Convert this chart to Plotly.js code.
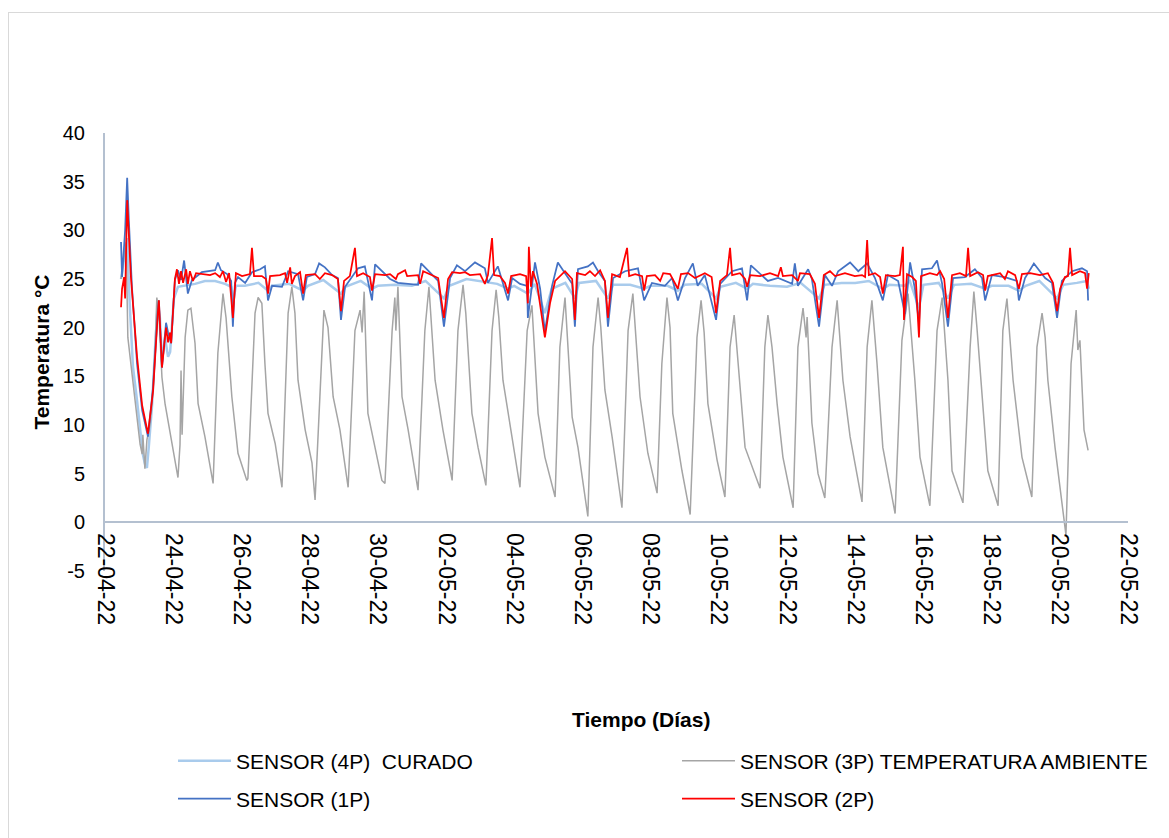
<!DOCTYPE html>
<html>
<head>
<meta charset="utf-8">
<script src="https://cdn.plot.ly/plotly-3.0.1.min.js"></script>
<style>
  html, body { margin: 0; padding: 0; background: #ffffff; }
  #wrap { position: relative; width: 1169px; height: 838px; overflow: hidden; }
  #frame { position: absolute; left: 8px; top: 12px; width: 1170px; height: 840px; border: 1px solid #d9d9d9; box-sizing: border-box; pointer-events: none; z-index: 2; }
  #chart { position: absolute; left: 0; top: 0; width: 1169px; height: 838px; }
</style>
</head>
<body>
<div id="wrap">
  <div id="chart"></div>
  <div id="frame"></div>
</div>
<script>
// ---- Data (x = days elapsed since 22-04-22 00:00, y = temperature °C) ----

// SENSOR (4P) CURADO
const dias4P = [
  0.47,0.56,0.65,0.73,0.82,0.94,1.03,1.11,1.17,1.23,
  1.29,1.38,1.47,1.55,1.61,1.67,1.76,1.85,1.91,2.02,
  2.14,2.35,2.64,2.93,3.23,3.52,3.70,3.75,3.84,4.10,
  4.50,4.78,4.90,5.40,5.81,5.95,6.40,6.92,7.05,7.50,
  7.83,8.00,8.50,9.00,9.40,9.94,10.10,10.60,11.00,11.50,
  11.82,12.00,12.40,12.60,12.90,13.10,13.50,13.78,13.90,14.40,
  14.75,14.90,15.40,15.81,16.00,16.50,16.80,17.00,17.50,17.92,
  18.05,18.50,18.83,19.00,19.50,20.00,20.40,20.94,21.10,21.60,
  22.00,22.40,22.81,23.00,23.45,23.60,23.87,24.00,24.45,24.72,
  24.90,25.40,25.81,26.00,26.50,26.80,27.00,27.40,27.92,28.10,
  28.50,28.80,28.85
];
const sensor4P = [
  25.0,27.0,29.2,22.0,16.0,12.5,9.5,7.0,6.0,5.6,
  8.0,12.0,18.0,22.5,21.0,16.5,19.0,17.0,17.5,23.0,
  24.2,24.3,24.5,24.8,24.8,24.5,24.2,22.5,24.3,24.3,
  24.6,23.8,24.3,24.5,23.8,24.3,24.9,23.5,24.2,24.8,
  24.0,24.3,24.4,24.3,24.8,23.0,24.3,25.0,24.8,24.5,
  24.0,24.3,23.5,24.5,21.5,24.0,24.6,23.0,24.6,24.8,
  23.0,24.4,24.4,24.0,24.3,24.3,23.8,24.4,24.5,23.0,
  24.2,24.6,24.0,24.5,24.3,24.2,24.6,23.0,24.4,24.6,
  24.6,24.8,24.0,24.4,24.3,24.8,22.0,24.4,24.6,23.0,
  24.4,24.5,24.0,24.3,24.3,23.8,24.3,24.8,23.0,24.4,
  24.6,24.8,24.0
];

// SENSOR (3P) TEMPERATURA AMBIENTE
const dias3P = [
  0.47,0.62,0.67,0.79,0.94,1.03,1.09,1.11,1.17,1.23,
  1.32,1.38,1.47,1.52,1.58,1.67,1.76,1.91,2.05,2.14,
  2.20,2.23,2.26,2.35,2.43,2.52,2.64,2.73,2.93,3.17,
  3.31,3.46,3.55,3.72,3.90,4.16,4.19,4.40,4.49,4.60,
  4.69,4.78,4.99,5.19,5.37,5.48,5.57,5.66,5.87,6.07,
  6.16,6.30,6.42,6.54,6.69,6.89,7.13,7.33,7.48,7.54,
  7.60,7.71,7.92,8.12,8.21,8.42,8.50,8.53,8.59,8.71,
  8.89,9.09,9.18,9.38,9.50,9.68,9.91,10.18,10.35,10.50,
  10.58,10.76,10.94,11.17,11.35,11.47,11.55,11.67,11.94,12.17,
  12.38,12.52,12.70,12.90,13.20,13.34,13.49,13.55,13.70,13.87,
  14.16,14.31,14.46,14.54,14.66,14.87,15.16,15.34,15.48,15.69,
  15.92,16.19,16.33,16.48,16.57,16.65,16.92,17.16,17.36,17.48,
  17.57,17.68,17.95,18.18,18.33,18.45,18.57,18.77,19.21,19.35,
  19.44,19.56,19.71,19.88,20.18,20.32,20.47,20.56,20.59,20.73,
  20.91,21.11,21.32,21.47,21.64,21.85,22.20,22.35,22.49,22.64,
  22.81,23.17,23.37,23.55,23.75,23.90,24.19,24.40,24.55,24.72,
  24.84,25.16,25.37,25.48,25.57,25.72,25.89,26.19,26.33,26.45,
  26.63,26.89,27.18,27.33,27.48,27.57,27.65,27.86,28.06,28.18,
  28.33,28.48,28.53,28.59,28.71,28.83
];
const sensor3P = [
  25.0,28.8,19.0,15.3,11.2,8.0,7.0,9.0,5.5,8.5,
  10.0,12.2,18.0,23.1,21.5,14.9,12.2,9.2,6.4,4.6,
  8.0,15.6,9.0,19.0,21.8,22.0,18.4,12.2,8.8,4.0,
  17.4,23.5,21.0,12.9,7.1,4.3,4.5,21.5,23.1,22.5,
  16.3,11.2,8.1,3.6,21.5,24.2,21.5,14.6,9.5,6.1,
  2.3,12.9,21.8,20.0,12.9,9.5,3.6,19.7,21.8,19.5,
  23.7,11.2,7.7,4.3,4.0,19.7,23.1,19.7,24.2,12.9,
  9.5,5.0,3.3,19.7,24.2,14.6,9.5,4.3,19.7,24.4,
  21.5,11.2,7.7,3.8,19.7,23.9,21.0,14.6,8.8,3.6,
  19.7,22.3,11.2,6.7,2.6,18.0,23.1,19.5,10.8,7.7,
  0.6,18.0,23.1,20.0,13.6,8.8,1.5,19.7,23.5,12.9,
  7.1,3.0,16.3,23.1,20.0,11.2,5.3,0.8,19.0,22.8,
  19.5,12.2,6.4,2.6,18.0,21.3,16.3,7.7,3.5,18.0,
  21.3,18.0,12.2,6.7,1.5,18.0,22.0,19.0,21.1,10.2,
  5.0,2.5,18.0,22.8,14.6,8.8,2.1,18.0,22.8,16.3,
  7.7,0.9,18.7,23.5,14.6,6.7,1.7,19.7,23.1,14.6,
  5.3,2.0,18.0,23.7,20.0,12.9,5.3,1.7,19.7,23.0,
  14.6,6.7,2.6,18.0,21.5,19.0,14.6,7.7,2.0,-1.3,
  16.3,21.8,17.7,18.7,9.5,7.4
];

// SENSOR (1P)
const dias1P = [
  0.47,0.50,0.59,0.65,0.70,0.79,0.94,1.09,1.26,1.41,
  1.55,1.58,1.67,1.79,1.85,1.94,2.05,2.14,2.23,2.32,
  2.43,2.55,2.84,3.23,3.31,3.40,3.58,3.70,3.75,3.81,
  3.90,4.11,4.31,4.55,4.69,4.78,4.90,5.19,5.37,5.66,
  5.81,5.92,6.16,6.28,6.45,6.66,6.83,6.92,7.04,7.42,
  7.62,7.83,7.92,8.21,8.36,8.59,9.18,9.27,9.59,9.77,
  9.94,10.12,10.32,10.56,10.85,11.14,11.23,11.52,11.82,11.94,
  12.17,12.38,12.40,12.61,12.76,12.90,13.11,13.28,13.49,13.70,
  13.78,13.87,14.16,14.31,14.46,14.66,14.75,14.90,15.25,15.63,
  15.81,16.04,16.42,16.63,16.80,17.01,17.24,17.38,17.59,17.92,
  18.04,18.39,18.68,18.83,18.94,19.27,19.44,19.74,20.15,20.23,
  20.32,20.62,20.73,20.94,21.11,21.32,21.50,21.85,22.09,22.35,
  22.58,22.81,22.96,23.26,23.46,23.61,23.75,23.87,23.96,24.25,
  24.40,24.55,24.72,24.87,25.22,25.51,25.72,25.81,26.01,26.39,
  26.74,26.80,26.98,27.24,27.57,27.77,27.92,28.06,28.36,28.65,
  28.80,28.83
];
const sensor1P = [
  28.8,25.2,30.0,35.4,31.0,24.2,16.3,11.5,8.8,13.9,
  21.8,22.8,15.9,20.5,19.5,18.4,24.9,25.9,24.9,26.9,
  23.5,24.9,25.7,25.9,26.7,25.9,25.5,24.8,20.1,24.6,
  25.2,24.6,25.7,26.0,26.3,22.8,24.3,24.2,25.8,25.5,
  22.8,25.2,25.5,26.6,26.2,25.4,25.1,20.8,24.2,26.1,
  26.3,22.8,26.5,25.5,25.0,24.6,24.4,26.6,25.5,24.8,
  20.1,25.1,26.4,25.8,26.7,26.1,24.6,26.3,22.8,25.1,
  24.5,24.3,21.0,26.7,24.0,19.6,24.3,26.7,25.6,24.5,
  20.1,26.0,26.3,26.7,25.8,24.8,20.1,25.1,25.8,26.1,
  22.8,24.6,24.3,25.1,22.8,25.1,26.6,24.3,25.4,20.8,
  24.5,25.8,26.1,22.8,26.4,25.4,24.8,25.1,24.5,26.6,
  24.3,26.0,25.0,20.1,25.4,24.3,25.8,26.7,25.8,26.6,
  25.1,22.8,25.4,24.8,21.4,26.7,24.0,20.5,26.0,26.1,
  26.9,24.5,20.1,25.1,25.2,26.0,25.1,22.8,25.4,25.2,
  24.8,22.8,25.1,26.6,25.1,24.6,21.0,24.8,25.8,26.1,
  25.8,22.8
];

// SENSOR (2P)
const dias2P = [
  0.47,0.50,0.56,0.59,0.65,0.70,0.76,0.94,1.09,1.26,
  1.41,1.55,1.58,1.67,1.73,1.79,1.85,1.91,1.94,2.05,
  2.11,2.17,2.23,2.29,2.38,2.43,2.49,2.58,2.67,2.93,
  3.08,3.23,3.37,3.46,3.55,3.64,3.75,3.84,4.02,4.25,
  4.31,4.37,4.60,4.72,4.78,4.84,5.13,5.28,5.34,5.43,
  5.48,5.57,5.72,5.81,5.89,6.16,6.30,6.45,6.66,6.83,
  6.92,7.01,7.18,7.33,7.39,7.57,7.77,7.83,7.92,8.21,
  8.36,8.53,8.59,8.80,8.86,9.18,9.24,9.33,9.53,9.77,
  9.94,10.06,10.18,10.41,10.56,10.70,11.00,11.14,11.23,11.35,
  11.41,11.58,11.73,11.82,11.91,12.17,12.35,12.40,12.43,12.49,
  12.55,12.67,12.90,13.05,13.20,13.34,13.49,13.70,13.78,13.84,
  14.08,14.22,14.37,14.52,14.66,14.75,14.87,15.10,15.31,15.37,
  15.55,15.75,15.81,15.89,16.13,16.28,16.37,16.57,16.74,16.80,
  16.89,17.10,17.30,17.45,17.59,17.79,17.92,18.04,18.24,18.33,
  18.39,18.62,18.77,18.83,18.92,19.21,19.50,19.74,19.82,19.88,
  20.15,20.32,20.38,20.67,20.82,20.94,21.08,21.26,21.41,21.70,
  21.99,22.20,22.29,22.35,22.40,22.58,22.73,22.81,22.90,23.17,
  23.31,23.40,23.43,23.52,23.67,23.78,23.87,23.93,24.19,24.40,
  24.49,24.61,24.72,24.84,25.07,25.25,25.31,25.37,25.60,25.75,
  25.81,25.89,26.25,26.39,26.48,26.69,26.80,26.89,27.13,27.42,
  27.65,27.80,27.92,28.01,28.15,28.24,28.30,28.36,28.59,28.74,
  28.80,28.85
];
const sensor2P = [
  22.1,24.0,25.2,23.0,33.1,29.0,25.2,17.0,12.0,9.1,
  13.5,21.5,22.8,15.9,18.0,20.0,18.5,19.5,18.4,25.0,
  26.0,24.5,25.8,24.6,26.0,24.5,25.8,24.8,25.6,25.5,
  25.4,25.6,25.2,25.8,24.7,25.6,21.0,25.6,25.3,25.5,
  28.2,25.3,25.3,25.0,23.5,25.3,25.4,25.6,24.6,26.2,
  24.5,25.3,25.7,23.5,25.4,25.5,25.0,25.6,25.4,25.0,
  21.7,24.8,25.3,28.2,25.3,25.6,25.2,23.8,25.5,25.4,
  25.5,25.0,25.5,25.9,25.3,25.4,24.5,25.8,25.5,25.1,
  21.0,25.0,25.7,25.6,25.7,25.4,25.5,24.5,25.4,29.2,
  25.4,25.3,24.6,23.5,25.3,25.5,25.3,22.5,28.3,24.2,
  25.8,24.5,19.0,22.5,24.8,25.3,25.8,25.0,20.8,25.6,
  25.4,25.8,25.3,25.9,24.8,21.0,25.5,25.2,28.2,25.3,
  25.5,25.3,23.8,25.3,25.4,24.8,25.6,25.5,24.3,24.0,
  25.5,25.6,25.1,25.4,25.6,25.2,21.5,24.8,25.4,28.2,
  25.4,25.6,25.0,24.2,25.4,25.3,25.6,25.3,26.2,25.3,
  25.4,24.8,25.6,25.5,24.5,21.0,25.4,25.8,25.3,25.6,
  25.3,25.4,25.2,29.0,25.4,25.6,25.2,23.5,25.4,25.3,
  25.4,28.3,20.8,25.5,25.2,24.8,19.0,25.3,25.6,25.4,
  25.8,25.0,21.0,25.4,25.6,25.3,28.2,25.3,25.7,25.4,
  23.8,25.3,25.6,25.0,25.8,25.4,24.0,25.5,25.6,25.4,
  25.6,24.6,21.7,24.0,25.2,25.3,28.2,25.4,25.8,25.6,
  24.0,25.6
];

// Axis ticks
const yTicks = [-5, 0, 5, 10, 15, 20, 25, 30, 35, 40];
const yTickText = ['-5', '0', '5', '10', '15', '20', '25', '30', '35', '40'];
const xTickDates = ['2022-04-22','2022-04-24','2022-04-26','2022-04-28','2022-04-30',
  '2022-05-02','2022-05-04','2022-05-06','2022-05-08','2022-05-10','2022-05-12',
  '2022-05-14','2022-05-16','2022-05-18','2022-05-20','2022-05-22'];
const xTickText = ['22-04-22','24-04-22','26-04-22','28-04-22','30-04-22',
  '02-05-22','04-05-22','06-05-22','08-05-22','10-05-22','12-05-22',
  '14-05-22','16-05-22','18-05-22','20-05-22','22-05-22'];

// ---- convert elapsed days to date strings ----
const t0 = Date.UTC(2022, 3, 22);
function aFecha(d) {
  return new Date(t0 + d * 86400000).toISOString().slice(0, 19).replace('T', ' ');
}

const FONT = 'Liberation Sans, Arial, sans-serif';

const traces = [
  { x: dias4P.map(aFecha), y: sensor4P, name: 'SENSOR (4P)  CURADO', type: 'scatter', mode: 'lines',
    line: { color: '#a9cbec', width: 2.5 }, legend: 'legend' },
  { x: dias3P.map(aFecha), y: sensor3P, name: 'SENSOR (3P) TEMPERATURA AMBIENTE', type: 'scatter', mode: 'lines',
    line: { color: '#a5a5a5', width: 1.5 }, legend: 'legend2' },
  { x: dias1P.map(aFecha), y: sensor1P, name: 'SENSOR (1P)', type: 'scatter', mode: 'lines',
    line: { color: '#4472c4', width: 1.75 }, legend: 'legend3' },
  { x: dias2P.map(aFecha), y: sensor2P, name: 'SENSOR (2P)', type: 'scatter', mode: 'lines',
    line: { color: '#ff0000', width: 1.75 }, legend: 'legend4' }
];

const W = 1169, H = 838;
const L = 105, R = 41, T = 133, B = 267;
const pw = W - L - R, ph = H - T - B;
function px2x(p) { return (p - L) / pw; }
function py2y(p) { return (H - B - p) / ph; }

const legendCommon = {
  orientation: 'h', xanchor: 'left', yanchor: 'middle',
  itemwidth: 53,
  font: { family: FONT, size: 21, color: '#000000' },
  bgcolor: 'rgba(0,0,0,0)', borderwidth: 0
};
function leyenda(xp, yp) { return Object.assign({}, legendCommon, { x: px2x(xp), y: py2y(yp) }); }

const layout = {
  width: W, height: H,
  margin: { l: L, r: R, t: T, b: B, pad: 0 },
  paper_bgcolor: '#ffffff', plot_bgcolor: '#ffffff',
  font: { family: FONT, size: 20, color: '#000000' },
  showlegend: true,
  xaxis: {
    type: 'date',
    range: ['2022-04-22', '2022-05-22'],
    tickmode: 'array', tickvals: xTickDates, ticktext: xTickText,
    tickangle: 90,
    anchor: 'free', position: 5 / 45,
    showline: true, linecolor: '#b4c0d0', linewidth: 2,
    showgrid: false, zeroline: false, ticks: '',
    ticklabelstandoff: 5,
    tickfont: { family: FONT, size: 23, color: '#000000' }
  },
  yaxis: {
    range: [-5, 40],
    tickmode: 'array', tickvals: yTicks, ticktext: yTickText,
    showline: true, linecolor: '#b4c0d0', linewidth: 2,
    showgrid: false, zeroline: false, ticks: '',
    ticklabelstandoff: 14,
    tickfont: { family: FONT, size: 20, color: '#000000' },
    title: { text: 'Temperatura °C', standoff: 7,
      font: { family: FONT, size: 21, color: '#000000', weight: 700 } }
  },
  legend: leyenda(173, 761),
  legend2: leyenda(677, 761),
  legend3: leyenda(173, 799),
  legend4: leyenda(677, 799),
  annotations: [
    { text: 'Tiempo (Días)', xref: 'paper', yref: 'paper', x: px2x(641), y: py2y(719),
      xanchor: 'center', yanchor: 'middle', showarrow: false,
      font: { family: FONT, size: 21, color: '#000000', weight: 700 } }
  ]
};

Plotly.newPlot('chart', traces, layout, { staticPlot: true, displayModeBar: false });
</script>
</body>
</html>
